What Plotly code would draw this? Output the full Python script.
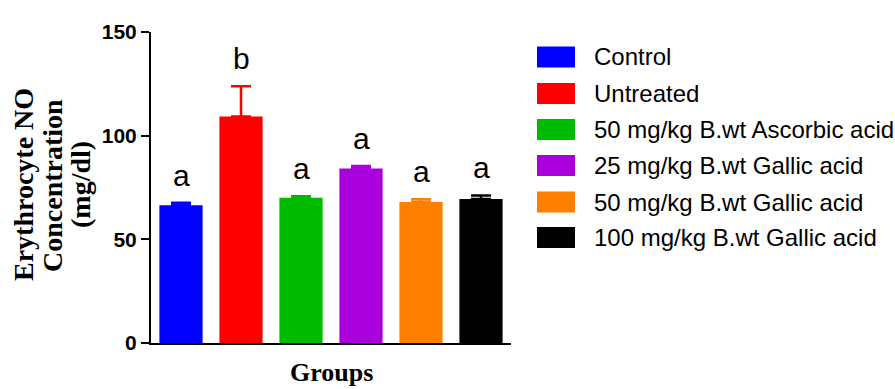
import plotly.graph_objects as go

# Erythrocyte NO concentration per treatment group (mean and SEM, mg/dl)
groups = [
    "Control",
    "Untreated",
    "50 mg/kg B.wt Ascorbic acid",
    "25 mg/kg B.wt Gallic acid",
    "50 mg/kg B.wt Gallic acid",
    "100 mg/kg B.wt Gallic acid",
]
means = [66.4, 109.3, 70.0, 84.2, 68.0, 69.4]
sem = [1.3, 14.5, 0.8, 1.2, 1.3, 1.8]
letters = ["a", "b", "a", "a", "a", "a"]
colors = ["#0000FF", "#FF0000", "#00BB00", "#AA00DD", "#FF8000", "#000000"]
y_ticks = [0, 50, 100, 150]
y_title_lines = ["Erythrocyte NO", "Concentration", "(mg/dl)"]

W, H = 895, 389
L, R, T, B = 151, 511, 32, 343  # plot area in pixels


def px(x):
    return (x - L) / (R - L)


def py(y):
    return (B - y) / (B - T)


fig = go.Figure()
for g, m, e, c in zip(groups, means, sem, colors):
    fig.add_trace(go.Bar(
        x=[g], y=[m], name=g, width=0.72,
        marker=dict(color=c, line=dict(width=0)),
        error_y=dict(type="data", symmetric=False, array=[e], arrayminus=[0],
                     color=c, thickness=2.5, width=10),
        showlegend=False,
    ))

annotations = []
# significance letters above each bar
for g, m, e, s in zip(groups, means, sem, letters):
    annotations.append(dict(
        x=g, y=m + e, xref="x", yref="y", text=s, showarrow=False,
        yanchor="bottom", yshift=9,
        font=dict(family="Liberation Sans", size=30, color="black"),
    ))

# legend: colour swatches with labels
row_y = [57, 93.5, 129.5, 165.5, 202, 237.5]
shapes = []
for g, c, yc in zip(groups, colors, row_y):
    shapes.append(dict(
        type="rect", xref="paper", yref="paper",
        x0=px(537), x1=px(575), y0=py(yc + 10.5), y1=py(yc - 10.5),
        fillcolor=c, line=dict(width=0),
    ))
    annotations.append(dict(
        x=px(592), y=py(yc), xref="paper", yref="paper", text=g,
        showarrow=False, xanchor="left", yanchor="middle",
        font=dict(family="Liberation Sans", size=24, color="black"),
    ))

# axis titles
annotations.append(dict(
    x=px(331), y=py(372), xref="paper", yref="paper", text="<b>Groups</b>",
    showarrow=False, xanchor="center", yanchor="middle",
    font=dict(family="Liberation Serif", size=26, color="black"),
))
for line, xc in zip(y_title_lines, [23, 52, 80]):
    annotations.append(dict(
        x=px(xc), y=py(185), xref="paper", yref="paper",
        text="<b>" + line + "</b>",
        showarrow=False, xanchor="center", yanchor="middle", textangle=-90,
        font=dict(family="Liberation Serif", size=28, color="black"),
    ))

fig.update_layout(
    width=W, height=H,
    margin=dict(l=L, r=W - R, t=T, b=H - B, pad=0),
    paper_bgcolor="white", plot_bgcolor="white",
    shapes=shapes,
    annotations=annotations,
    xaxis=dict(
        range=[-0.5, 5.5], showticklabels=False, ticks="",
        showline=True, linecolor="black", linewidth=1.5,
        showgrid=False, zeroline=False, fixedrange=True,
    ),
    yaxis=dict(
        range=[0, 150], tickvals=y_ticks, ticks="outside", ticklen=8,
        tickwidth=1.5, tickcolor="black",
        showline=True, linecolor="black", linewidth=2,
        showgrid=False, zeroline=False,
        tickfont=dict(family="Liberation Sans", size=21, color="black", weight="bold"),
    ),
)

fig.write_html("out.html")
